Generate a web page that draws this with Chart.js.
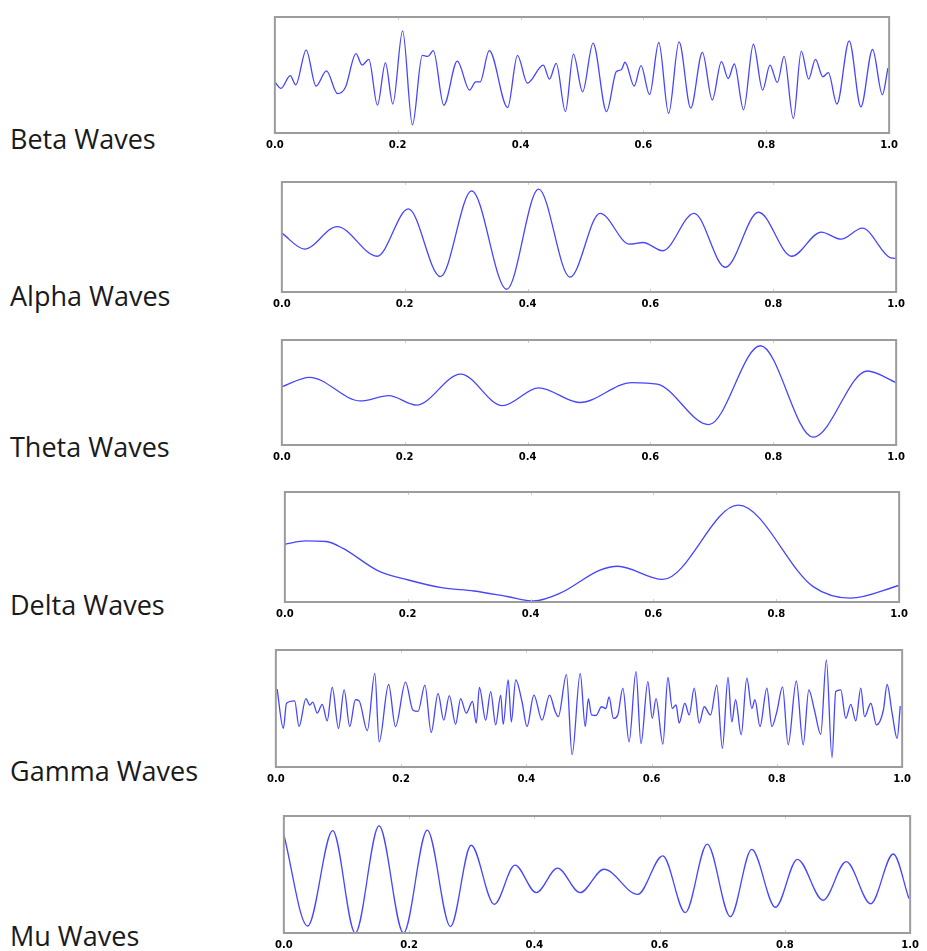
<!DOCTYPE html>
<html>
<head>
<meta charset="utf-8">
<title>Brain waves</title>
<script src="https://cdn.jsdelivr.net/npm/chart.js@4.4.0/dist/chart.umd.min.js"></script>
<style>
  html, body { margin: 0; padding: 0; background: #fff; }
  body { width: 927px; height: 951px; position: relative; overflow: hidden; }
  .wave-label {
    position: absolute; left: 10px;
    font-family: 'Open Sans', sans-serif; font-size: 27px; line-height: 30px;
    color: #1a1a1a; white-space: nowrap;
  }
  .panel { position: absolute; }
</style>
</head>
<body>
<script>
// ======================================
// Data (time in s, amplitude normalised to -1..1)
// ======================================
const xTicks = [0, 0.2, 0.4, 0.6, 0.8, 1.0];

const betaTime = [0.000, 0.010, 0.025, 0.034, 0.051, 0.067, 0.084, 0.102, 0.115, 0.132, 0.142, 0.153, 0.167, 0.180, 0.192, 0.208, 0.224, 0.240, 0.249, 0.258, 0.275, 0.297, 0.317, 0.327, 0.334, 0.349, 0.379, 0.395, 0.411, 0.437, 0.447, 0.458, 0.473, 0.486, 0.501, 0.518, 0.540, 0.556, 0.564, 0.570, 0.585, 0.596, 0.610, 0.625, 0.641, 0.658, 0.677, 0.696, 0.712, 0.727, 0.738, 0.748, 0.763, 0.779, 0.794, 0.806, 0.818, 0.829, 0.844, 0.857, 0.869, 0.880, 0.892, 0.901, 0.915, 0.935, 0.954, 0.973, 0.989, 0.998];
const betaAmp = [-0.12, -0.23, -0.01, -0.17, 0.43, -0.19, 0.07, -0.32, -0.21, 0.37, 0.17, 0.27, -0.52, 0.21, -0.50, 0.76, -0.86, 0.34, 0.32, 0.42, -0.52, 0.24, -0.26, -0.12, -0.12, 0.42, -0.56, 0.34, -0.14, 0.17, -0.07, 0.20, -0.63, 0.36, -0.29, 0.55, -0.63, 0.06, 0.09, 0.22, -0.19, 0.16, -0.34, 0.56, -0.66, 0.57, -0.57, 0.39, -0.43, 0.23, -0.06, 0.19, -0.60, 0.53, -0.26, 0.17, -0.13, 0.32, -0.75, 0.41, -0.07, 0.27, -0.03, 0.04, -0.50, 0.59, -0.55, 0.44, -0.34, 0.12];

const alphaTime = [0.000, 0.037, 0.090, 0.155, 0.206, 0.258, 0.309, 0.366, 0.418, 0.469, 0.518, 0.566, 0.588, 0.620, 0.671, 0.722, 0.776, 0.830, 0.878, 0.910, 0.945, 0.991, 1.000];
const alphaAmp = [0.07, -0.22, 0.19, -0.35, 0.51, -0.72, 0.84, -0.95, 0.87, -0.73, 0.43, -0.13, -0.10, -0.25, 0.43, -0.55, 0.45, -0.35, 0.09, -0.04, 0.16, -0.38, -0.39];

const thetaTime = [0.000, 0.045, 0.128, 0.174, 0.219, 0.291, 0.359, 0.418, 0.485, 0.570, 0.611, 0.695, 0.779, 0.865, 0.953, 1.000];
const thetaAmp = [0.11, 0.29, -0.16, -0.06, -0.24, 0.35, -0.25, 0.09, -0.19, 0.19, 0.16, -0.61, 0.89, -0.85, 0.41, 0.19];

const deltaTime = [0.000, 0.034, 0.067, 0.094, 0.153, 0.201, 0.255, 0.308, 0.362, 0.405, 0.448, 0.513, 0.542, 0.615, 0.738, 0.860, 0.921, 1.000];
const deltaAmp = [0.05, 0.11, 0.10, -0.02, -0.44, -0.60, -0.74, -0.80, -0.90, -0.98, -0.84, -0.42, -0.35, -0.59, 0.76, -0.72, -0.93, -0.70];

const gammaTime = [0.002, 0.012, 0.017, 0.030, 0.037, 0.048, 0.054, 0.059, 0.066, 0.074, 0.082, 0.090, 0.100, 0.109, 0.118, 0.127, 0.133, 0.146, 0.158, 0.165, 0.180, 0.191, 0.207, 0.219, 0.227, 0.238, 0.248, 0.259, 0.268, 0.277, 0.287, 0.295, 0.304, 0.314, 0.320, 0.325, 0.335, 0.343, 0.351, 0.359, 0.363, 0.371, 0.376, 0.383, 0.393, 0.401, 0.412, 0.425, 0.437, 0.446, 0.451, 0.464, 0.473, 0.486, 0.494, 0.499, 0.504, 0.511, 0.520, 0.527, 0.532, 0.539, 0.546, 0.554, 0.564, 0.575, 0.583, 0.594, 0.601, 0.607, 0.618, 0.626, 0.633, 0.639, 0.644, 0.653, 0.660, 0.668, 0.676, 0.684, 0.694, 0.704, 0.713, 0.722, 0.728, 0.734, 0.743, 0.752, 0.760, 0.765, 0.773, 0.784, 0.792, 0.800, 0.809, 0.818, 0.831, 0.842, 0.851, 0.860, 0.870, 0.879, 0.888, 0.894, 0.902, 0.910, 0.918, 0.926, 0.934, 0.940, 0.950, 0.959, 0.970, 0.976, 0.984, 0.992, 0.997];
const gammaAmp = [0.33, -0.34, 0.09, 0.13, -0.31, 0.17, 0.06, 0.11, -0.08, 0.07, -0.21, 0.36, -0.34, 0.32, -0.31, 0.15, 0.13, -0.38, 0.60, -0.57, 0.41, -0.31, 0.45, -0.03, -0.05, 0.40, -0.41, 0.26, -0.20, 0.22, -0.27, 0.17, -0.08, 0.12, -0.25, 0.36, -0.20, 0.29, -0.28, 0.23, -0.27, 0.49, -0.23, 0.49, 0.12, -0.31, 0.23, -0.20, 0.23, -0.05, -0.14, 0.58, -0.79, 0.60, -0.31, 0.17, -0.11, -0.12, 0.03, 0.00, 0.20, -0.17, -0.11, 0.35, -0.57, 0.63, -0.60, 0.46, -0.17, 0.17, -0.61, 0.53, 0.00, 0.06, -0.25, 0.09, -0.11, 0.35, -0.25, 0.03, -0.11, 0.40, -0.68, 0.53, -0.23, 0.15, -0.45, 0.52, 0.00, 0.15, -0.31, 0.35, -0.31, -0.05, 0.37, -0.62, 0.47, -0.62, 0.32, -0.03, -0.44, 0.83, -0.84, 0.29, 0.32, -0.17, 0.07, -0.21, 0.35, -0.14, 0.09, -0.28, -0.03, 0.41, -0.08, -0.51, 0.04];

const muTime = [0.000, 0.038, 0.078, 0.114, 0.152, 0.191, 0.229, 0.266, 0.299, 0.336, 0.369, 0.403, 0.437, 0.473, 0.511, 0.565, 0.605, 0.641, 0.676, 0.713, 0.747, 0.785, 0.820, 0.861, 0.898, 0.937, 0.973, 0.998];
const muAmp = [0.68, -0.88, 0.75, -1.00, 0.83, -1.00, 0.76, -0.89, 0.50, -0.51, 0.16, -0.31, 0.11, -0.31, 0.09, -0.34, 0.32, -0.65, 0.52, -0.72, 0.43, -0.56, 0.26, -0.44, 0.22, -0.50, 0.35, -0.41];

const waveNames = ['Beta Waves', 'Alpha Waves', 'Theta Waves', 'Delta Waves', 'Gamma Waves', 'Mu Waves'];
const waveTimes = [betaTime, alphaTime, thetaTime, deltaTime, gammaTime, muTime];
const waveAmps = [betaAmp, alphaAmp, thetaAmp, deltaAmp, gammaAmp, muAmp];

// ======================================
// Layout (plot frame in page pixels, label centre y)
// ======================================
const frames = [
  { left: 272, top: 17,  w: 620, h: 116, labelY: 140 },
  { left: 279, top: 182, w: 620, h: 110, labelY: 297 },
  { left: 279, top: 340, w: 620, h: 105, labelY: 448 },
  { left: 282, top: 492, w: 620, h: 110, labelY: 606 },
  { left: 273, top: 650, w: 632, h: 117, labelY: 772 },
  { left: 281, top: 816, w: 632, h: 117, labelY: 937 }
];
const PAD_X = 12, PAD_TOP = 4, AXIS_H = 20;

// frame + inward tick marks, drawn over the trace like the old matplotlib style
const framePlugin = {
  id: 'frame',
  afterDatasetsDraw(chart) {
    const { ctx, chartArea: a, scales: { x } } = chart;
    ctx.save();
    ctx.strokeStyle = '#cfcfcf';
    ctx.lineWidth = 1;
    xTicks.forEach(v => {
      const px = Math.round(x.getPixelForValue(v)) + 0.5;
      ctx.beginPath();
      ctx.moveTo(px, a.top); ctx.lineTo(px, a.top + 3);
      ctx.moveTo(px, a.bottom); ctx.lineTo(px, a.bottom - 3);
      ctx.stroke();
    });
    ctx.strokeStyle = '#9c9c9c';
    ctx.lineWidth = 2;
    ctx.strokeRect(a.left, a.top, a.right - a.left, a.bottom - a.top);
    ctx.restore();
  }
};

frames.forEach((f, i) => {
  const label = document.createElement('div');
  label.className = 'wave-label';
  label.textContent = waveNames[i];
  label.style.top = (f.labelY - 16) + 'px';
  document.body.appendChild(label);

  const box = document.createElement('div');
  box.className = 'panel';
  box.style.left = (f.left - PAD_X) + 'px';
  box.style.top = (f.top - PAD_TOP) + 'px';
  box.style.width = (f.w + 2 * PAD_X) + 'px';
  box.style.height = (f.h + PAD_TOP + AXIS_H) + 'px';
  const canvas = document.createElement('canvas');
  box.appendChild(canvas);
  document.body.appendChild(box);

  const points = waveTimes[i].map((t, k) => ({ x: t, y: waveAmps[i][k] }));

  new Chart(canvas, {
    type: 'line',
    data: {
      datasets: [{
        data: points,
        borderColor: '#4646ff',
        borderWidth: 1.3,
        pointRadius: 0,
        cubicInterpolationMode: 'monotone',
        fill: false
      }]
    },
    options: {
      responsive: true,
      maintainAspectRatio: false,
      animation: false,
      layout: { padding: { left: PAD_X, right: PAD_X, top: PAD_TOP, bottom: 0 } },
      plugins: { legend: { display: false }, tooltip: { enabled: false } },
      scales: {
        x: {
          type: 'linear', min: 0, max: 1,
          grid: { display: false, drawTicks: false },
          border: { display: false },
          afterFit: s => { s.height = AXIS_H; },
          afterBuildTicks: s => { s.ticks = xTicks.map(v => ({ value: v })); },
          ticks: {
            padding: 6,
            maxRotation: 0,
            autoSkip: false,
            color: '#000',
            font: { family: 'DejaVu Sans', size: 10, weight: 'bold' },
            callback: v => v.toFixed(1)
          }
        },
        y: { display: false, min: -1, max: 1 }
      }
    },
    plugins: [framePlugin]
  });
});
</script>
</body>
</html>
